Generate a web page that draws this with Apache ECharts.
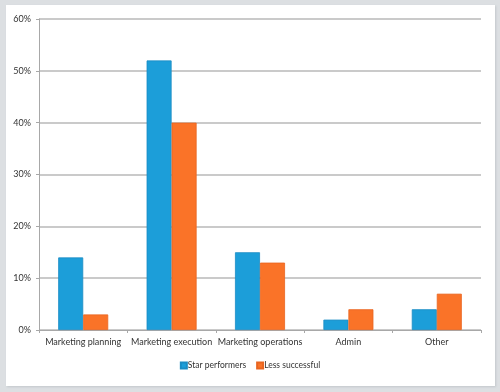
<!DOCTYPE html>
<html><head><meta charset="utf-8">
<script src="https://cdn.jsdelivr.net/npm/echarts@6/dist/echarts.min.js"></script>
<style>
html,body{margin:0;padding:0;background:#dcdfe2;}
#frame{position:absolute;left:6px;top:5px;width:489px;height:381px;background:#fff;box-shadow:1px 1px 2px #c4c8cc;}
#chart{position:absolute;left:0;top:0;width:500px;height:392px;}
</style></head>
<body>
<div id="frame"></div>
<div id="chart"></div>
<script>
const categories = ["Marketing planning","Marketing execution","Marketing operations","Admin","Other"];
const starPerformers = [14, 52, 15, 2, 4];
const lessSuccessful = [3, 40, 13, 4, 7];
const seriesNames = ["Star performers","Less successful"];

const chart = echarts.init(document.getElementById('chart'), null, {renderer:'canvas'});
const font = "Lato, 'Open Sans', sans-serif";
chart.setOption({
  animation:false,
  backgroundColor:'transparent',
  grid:{left:39,right:19,top:19,bottom:62,containLabel:false},
  legend:{
    data:seriesNames, top:356, left:'center',
    itemWidth:6,itemHeight:6,itemGap:10,icon:'rect',
    textStyle:{fontFamily:font,fontSize:8.5,color:'#333',padding:[0,0,0,-4]}
  },
  xAxis:{
    type:'category',data:categories,
    axisLine:{lineStyle:{color:'#a8a8a8',width:1}},
    axisTick:{show:true,length:3,lineStyle:{color:'#a8a8a8'}},
    axisLabel:{fontFamily:font,fontSize:9,color:'#333',margin:8,interval:0}
  },
  yAxis:{
    type:'value',min:0,max:60,interval:10,
    axisLine:{show:true,lineStyle:{color:'#a8a8a8',width:1}},
    axisTick:{show:true,length:3,lineStyle:{color:'#a8a8a8'}},
    splitLine:{lineStyle:{color:'#b8b8b8',width:1.5}},
    axisLabel:{fontFamily:font,fontSize:9,color:'#333',margin:8,formatter:'{value}%'}
  },
  series:[
    {name:seriesNames[0],type:'bar',data:starPerformers,barWidth:25,barGap:'0%',
     itemStyle:{color:'#1c9ed9',borderColor:'#1a8cc4',borderWidth:0.8}},
    {name:seriesNames[1],type:'bar',data:lessSuccessful,barWidth:25,barGap:'0%',
     itemStyle:{color:'#fa7328',borderColor:'#e86520',borderWidth:0.8}}
  ]
});
</script>
</body></html>
